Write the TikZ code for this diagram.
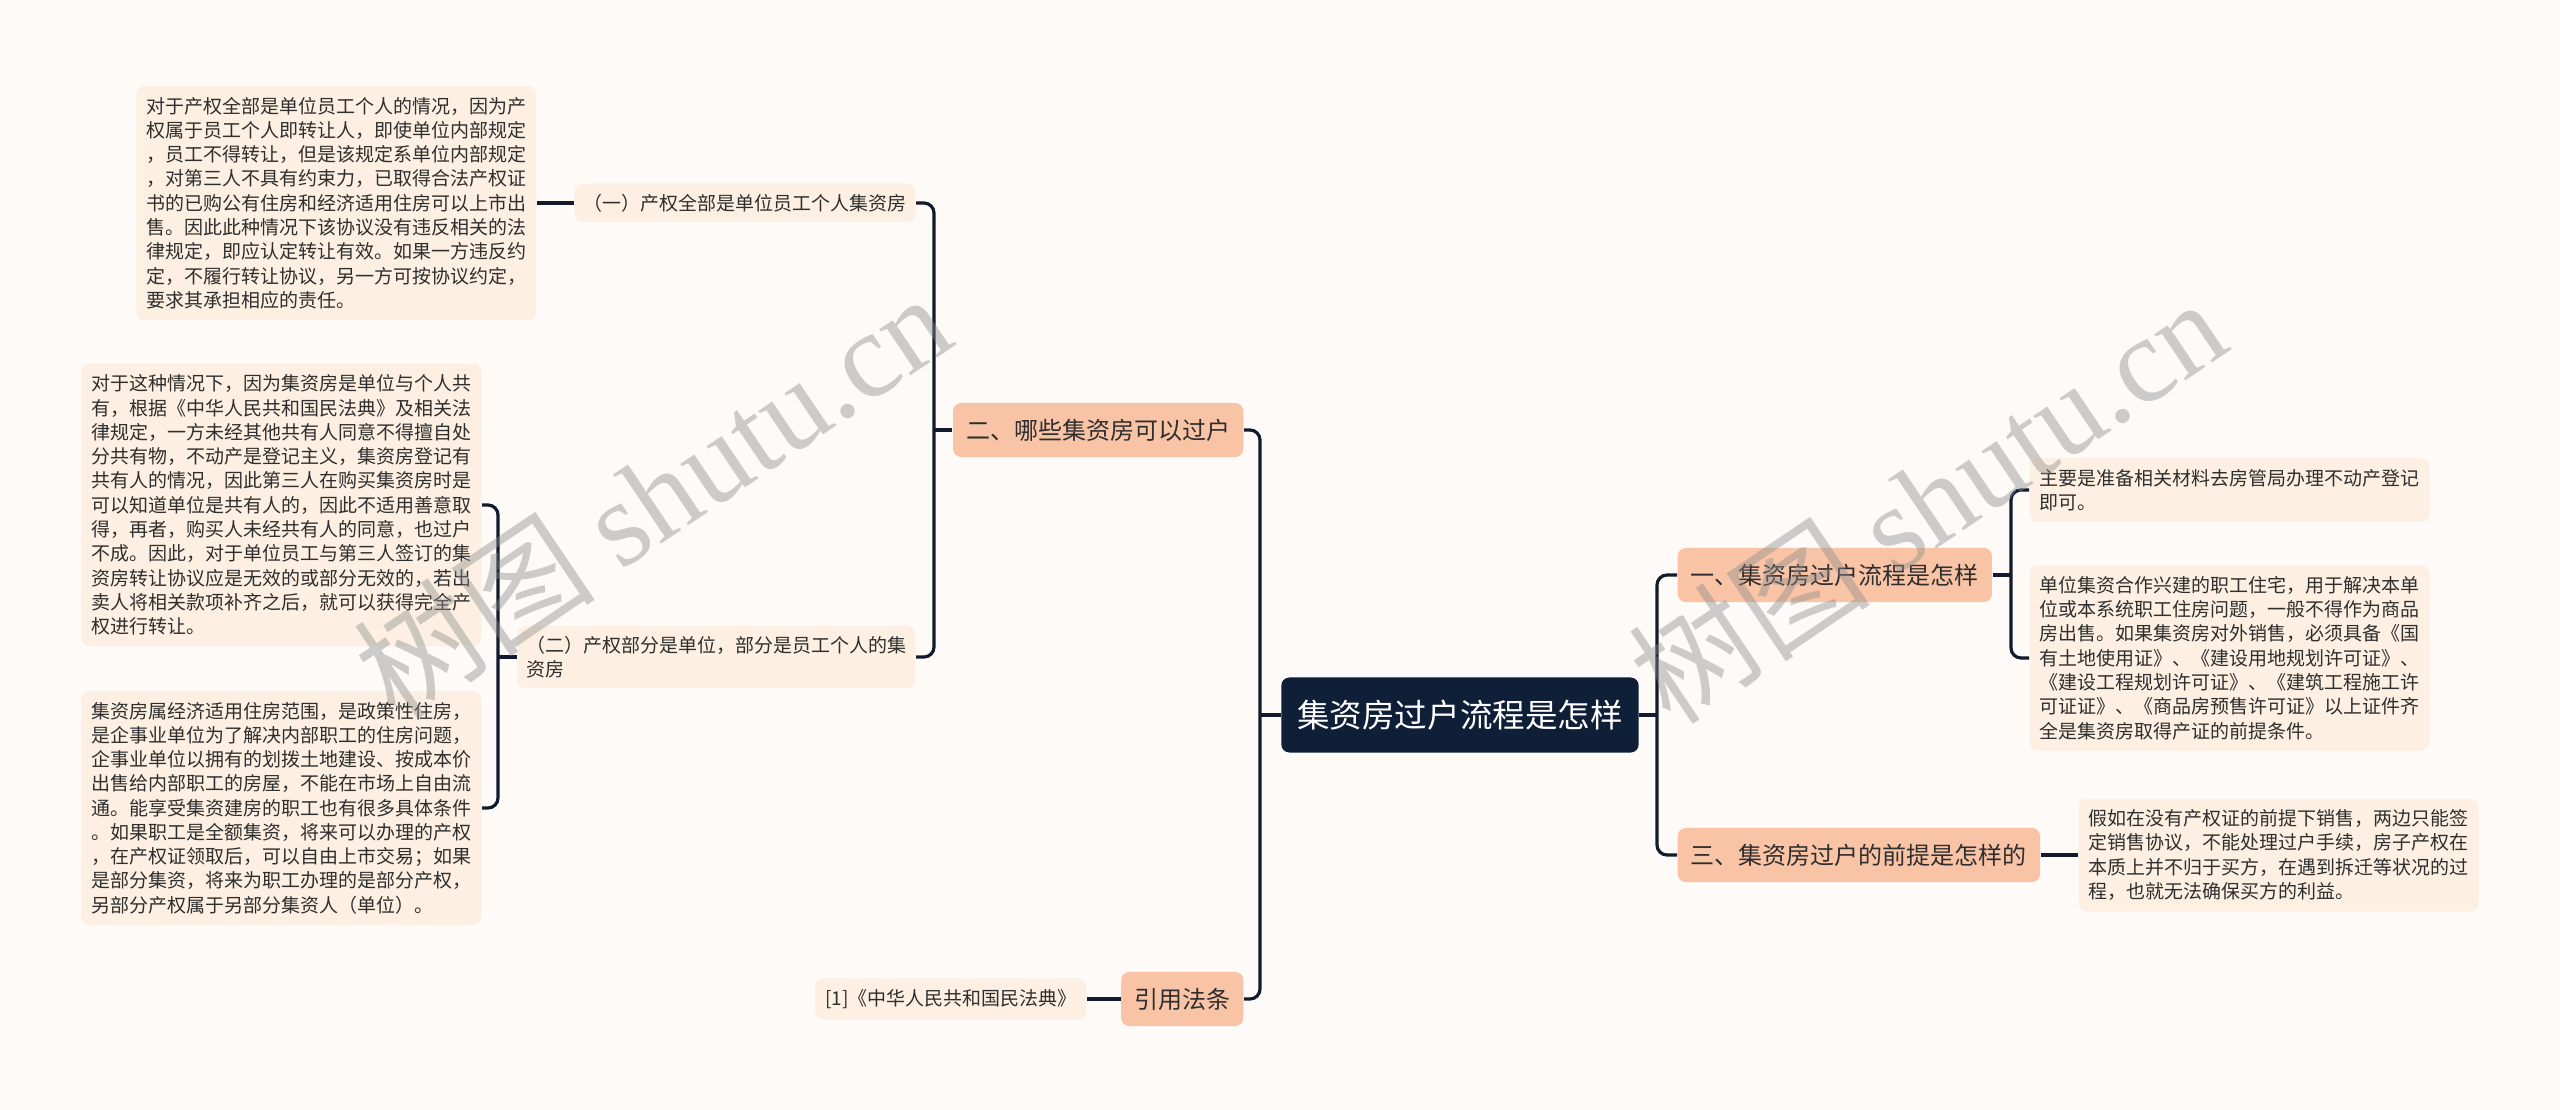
\documentclass[tikz,border=0pt]{standalone}
\usepackage{fontspec}
\setmainfont{Noto Sans CJK SC}
\newfontfamily\wmserif{Liberation Serif}
\usetikzlibrary{positioning}

\definecolor{bgcol}{HTML}{FDFAF8}
\definecolor{leafcol}{HTML}{FDF0E2}
\definecolor{topiccol}{HTML}{F9C4A6}
\definecolor{rootcol}{HTML}{0F1F38}
\definecolor{linecol}{HTML}{111B2D}
\definecolor{txtcol}{HTML}{2E2E2E}

\begin{document}
\begin{tikzpicture}[x=0.01cm,y=-0.01cm,
    leaf/.style={fill=leafcol,rounded corners=0.08cm,inner xsep=0.1cm,inner ysep=0.11cm,
        align=left,text=txtcol,font=\fontsize{5.4pt}{6.9pt}\selectfont},
    sub/.style={leaf,inner ysep=0.1cm,inner xsep=0.09cm},
    topic/.style={fill=topiccol,rounded corners=0.08cm,inner xsep=0.13cm,inner ysep=0pt,
        minimum height=0.54cm,text=txtcol,font=\fontsize{6.83pt}{8pt}\selectfont},
    main/.style={fill=rootcol,rounded corners=0.08cm,inner xsep=0.16cm,inner ysep=0pt,
        minimum height=0.75cm,text=white,font=\fontsize{9.25pt}{11pt}\selectfont},
    link/.style={draw=linecol,line width=0.9pt,rounded corners=0.1cm},
    wmark/.style={text=black!45,text opacity=0.42,font=\fontsize{34.5pt}{38pt}\selectfont}]

    \fill[bgcol] (0,0) rectangle (2560,1110);
    \useasboundingbox (0,0) rectangle (2560,1110);

    % centre and main topics
    \node[main] (root) at (1460,715) {集资房过户流程是怎样};
    \node[topic,anchor=west] (liucheng) at (1677,575) {一、集资房过户流程是怎样};
    \node[topic,anchor=west] (qianti) at (1677,855) {三、集资房过户的前提是怎样的};
    \node[topic,anchor=east] (naxie) at (1244,430) {二、哪些集资房可以过户};
    \node[topic,anchor=east] (fatiao) at (1244,999) {引用法条};

    % sub topics
    \node[sub,anchor=east] (quanbu) at (916,203) {（一）产权全部是单位员工个人集资房};
    \node[sub,anchor=east] (bufen) at (916,657) {（二）产权部分是单位，部分是员工个人的集\\资房};

    % leaves
    \node[leaf,anchor=east] (quanbuA) at (537,203) {对于产权全部是单位员工个人的情况，因为产\\
        权属于员工个人即转让人，即使单位内部规定\\
        ，员工不得转让，但是该规定系单位内部规定\\
        ，对第三人不具有约束力，已取得合法产权证\\
        书的已购公有住房和经济适用住房可以上市出\\
        售。因此此种情况下该协议没有违反相关的法\\
        律规定，即应认定转让有效。如果一方违反约\\
        定，不履行转让协议，另一方可按协议约定，\\
        要求其承担相应的责任。};
    \node[leaf,anchor=east] (bufenA) at (482,505) {对于这种情况下，因为集资房是单位与个人共\\
        有，根据《中华人民共和国民法典》及相关法\\
        律规定，一方未经其他共有人同意不得擅自处\\
        分共有物，不动产是登记主义，集资房登记有\\
        共有人的情况，因此第三人在购买集资房时是\\
        可以知道单位是共有人的，因此不适用善意取\\
        得，再者，购买人未经共有人的同意，也过户\\
        不成。因此，对于单位员工与第三人签订的集\\
        资房转让协议应是无效的或部分无效的，若出\\
        卖人将相关款项补齐之后，就可以获得完全产\\
        权进行转让。};
    \node[leaf,anchor=east] (bufenB) at (482,808) {集资房属经济适用住房范围，是政策性住房，\\
        是企事业单位为了解决内部职工的住房问题，\\
        企事业单位以拥有的划拨土地建设、按成本价\\
        出售给内部职工的房屋，不能在市场上自由流\\
        通。能享受集资建房的职工也有很多具体条件\\
        。如果职工是全额集资，将来可以办理的产权\\
        ，在产权证领取后，可以自由上市交易；如果\\
        是部分集资，将来为职工办理的是部分产权，\\
        另部分产权属于另部分集资人（单位）。};
    \node[leaf,anchor=east] (fadian) at (1087,999) {[1]《中华人民共和国民法典》};
    \node[leaf,anchor=west] (liuchengA) at (2029,490) {主要是准备相关材料去房管局办理不动产登记\\
        即可。};
    \node[leaf,anchor=west] (liuchengB) at (2029,658) {单位集资合作兴建的职工住宅，用于解决本单\\
        位或本系统职工住房问题，一般不得作为商品\\
        房出售。如果集资房对外销售，必须具备《国\\
        有土地使用证》、《建设用地规划许可证》、\\
        《建设工程规划许可证》、《建筑工程施工许\\
        可证证》、《商品房预售许可证》以上证件齐\\
        全是集资房取得产证的前提条件。};
    \node[leaf,anchor=west] (qiantiA) at (2078,855) {假如在没有产权证的前提下销售，两边只能签\\
        定销售协议，不能处理过户手续，房子产权在\\
        本质上并不归于买方，在遇到拆迁等状况的过\\
        程，也就无法确保买方的利益。};

    % joints
    \coordinate (jR) at (1657,715);
    \coordinate (jL) at (1260,715);
    \coordinate (jNaxie) at (934,430);
    \coordinate (jBufen) at (498,657);
    \coordinate (jLiucheng) at (2011,575);

    \draw[link] (root.east) -- (jR);
    \draw[link] (liucheng.west) -| (jR) |- (qianti.west);
    \draw[link] (root.west) -- (jL);
    \draw[link] (naxie.east) -| (jL) |- (fatiao.east);
    \draw[link] (naxie.west) -- (jNaxie);
    \draw[link] (quanbu.east) -| (jNaxie) |- (bufen.east);
    \draw[link] (quanbu.west) -- (quanbuA.east);
    \draw[link] (bufen.west) -- (jBufen);
    \draw[link] (bufenA.east) -| (jBufen) |- (bufenB.east);
    \draw[link] (fatiao.west) -- (fadian.east);
    \draw[link] (liucheng.east) -- (jLiucheng);
    \draw[link] (liuchengA.west) -| (jLiucheng) |- (liuchengB.west);
    \draw[link] (qianti.east) -- (qiantiA.west);

    % watermarks
    \node[wmark,rotate=34] (wmLeft) at (652,495) {树图 {\wmserif shutu.cn}};
    \node[wmark,rotate=34] (wmRight) at (1927,500) {树图 {\wmserif shutu.cn}};
\end{tikzpicture}
\end{document}
